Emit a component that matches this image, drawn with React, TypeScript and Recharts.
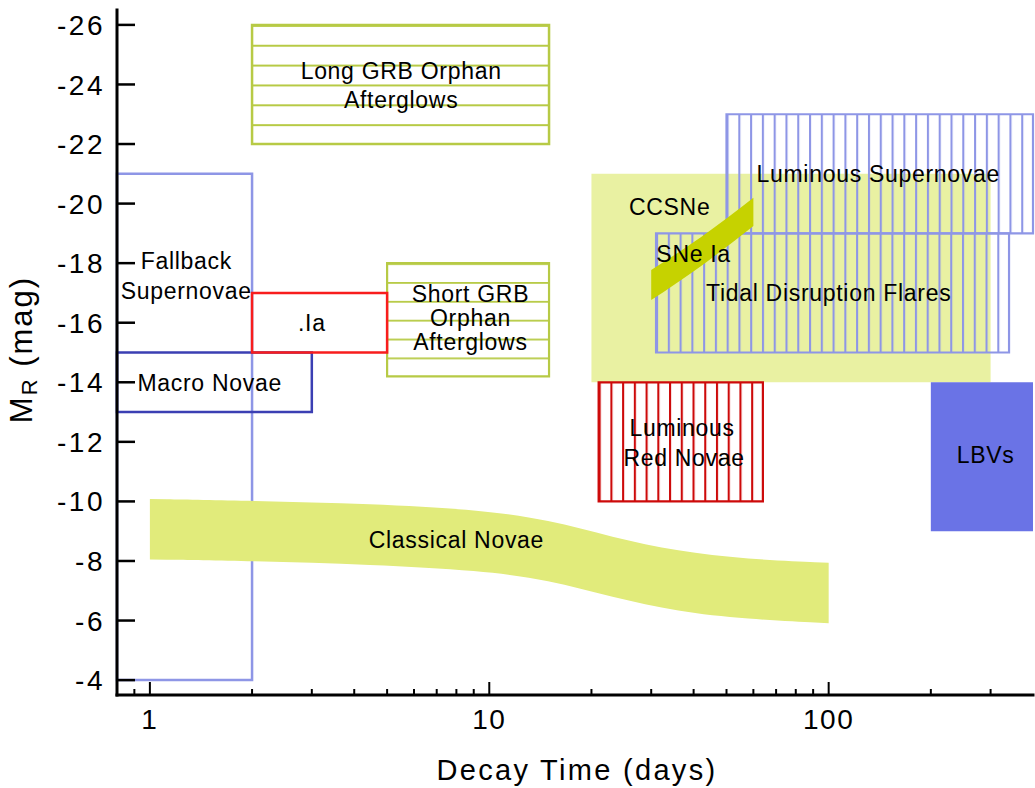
import React from "react";
import { ComposedChart, XAxis, YAxis, ReferenceArea, Area, Scatter } from "recharts";

// axis ticks
const X_TICKS = [0.9, 1, 2, 3, 4, 5, 6, 7, 8, 9, 10, 20, 30, 40, 50, 60, 70, 80, 90, 100, 200, 300];
const X_LABELED = [1, 10, 100];
const Y_TICKS = [-26, -24, -22, -20, -18, -16, -14, -12, -10, -8, -6, -4];

// rectangular regions: decay time (days) x M_R (mag), drawn in this order
const regions = [
  { name: "CCSNe", x1: 20, x2: 300, y1: -21, y2: -14 },
  { name: "Fallback Supernovae", x1: 0.8, x2: 2, y1: -21, y2: -4 },
  { name: "Macro Novae", x1: 0.8, x2: 3, y1: -15, y2: -13 },
  { name: "Short GRB Orphan Afterglows", x1: 5, x2: 15, y1: -18, y2: -14.2 },
  { name: ".Ia", x1: 2, x2: 5, y1: -17, y2: -15 },
  { name: "Long GRB Orphan Afterglows", x1: 2, x2: 15, y1: -26, y2: -22 },
  { name: "Luminous Supernovae", x1: 50, x2: 400, y1: -23, y2: -19 },
  { name: "Tidal Disruption Flares", x1: 31, x2: 340, y1: -19, y2: -15 },
  { name: "Luminous Red Novae", x1: 21, x2: 64, y1: -14, y2: -10 },
  { name: "LBVs", x1: 200, x2: 400, y1: -14, y2: -9 },
];

// Classical Novae band (lo = fainter edge, hi = brighter edge)
const classicalNovae = [
  { t: 1, lo: -8.05, hi: -10.08 },
  { t: 2, lo: -8.0, hi: -10.02 },
  { t: 4.5, lo: -7.88, hi: -9.92 },
  { t: 9.4, lo: -7.68, hi: -9.72 },
  { t: 15, lo: -7.36, hi: -9.38 },
  { t: 23, lo: -6.78, hi: -8.8 },
  { t: 36, lo: -6.3, hi: -8.32 },
  { t: 57, lo: -6.05, hi: -8.06 },
  { t: 100, lo: -5.91, hi: -7.94 },
];

// SNe Ia strip
const snIa = [
  { t: 30, lo: -16.76, hi: -17.77 },
  { t: 42, lo: -17.9, hi: -18.87 },
  { t: 60, lo: -19.25, hi: -20.2 },
];

// text labels, one entry per line
const labels = [
  { t: 5.5, m: -24.45, text: "Long GRB Orphan" },
  { t: 5.5, m: -23.48, text: "Afterglows" },
  { t: 1.28, m: -18.07, text: "Fallback" },
  { t: 1.28, m: -17.07, text: "Supernovae" },
  { t: 3.0, m: -15.99, text: ".Ia" },
  { t: 1.5, m: -14.0, text: "Macro Novae" },
  { t: 8.8, m: -16.96, text: "Short GRB" },
  { t: 8.8, m: -16.16, text: "Orphan" },
  { t: 8.8, m: -15.35, text: "Afterglows" },
  { t: 34, m: -19.9, text: "CCSNe" },
  { t: 140, m: -21.0, text: "Luminous Supernovae" },
  { t: 40, m: -18.32, text: "SNe Ia" },
  { t: 100, m: -17.0, text: "Tidal Disruption Flares" },
  { t: 37, m: -12.46, text: "Luminous" },
  { t: 37.5, m: -11.47, text: "Red Novae" },
  { t: 290, m: -11.57, text: "LBVs" },
  { t: 8.0, m: -8.7, text: "Classical Novae" },
];

const FONT = "'Liberation Sans', Arial, Helvetica, sans-serif";
const OLIVE = "#b7ca45";
const LIGHT_BLUE = "#8e96e6";
const DARK_RED = "#cd0a0a";

const regionStyle: Record<string, any> = {
  "CCSNe": { fill: "#e9f1a2", stroke: "none" },
  "Fallback Supernovae": { fill: "none", stroke: LIGHT_BLUE, strokeWidth: 2.5 },
  "Macro Novae": { fill: "none", stroke: "#3b3fb3", strokeWidth: 2.5 },
  ".Ia": { fill: "none", stroke: "#f81d1d", strokeWidth: 2.5 },
  "Long GRB Orphan Afterglows": { fill: "url(#hLong)", stroke: OLIVE, strokeWidth: 2.5 },
  "Short GRB Orphan Afterglows": { fill: "url(#hShort)", stroke: OLIVE, strokeWidth: 2.2 },
  "Luminous Supernovae": { fill: "url(#vLumSN)", stroke: LIGHT_BLUE, strokeWidth: 2.2 },
  "Tidal Disruption Flares": { fill: "url(#vTDF)", stroke: LIGHT_BLUE, strokeWidth: 2.2 },
  "Luminous Red Novae": { fill: "url(#vLRN)", stroke: DARK_RED, strokeWidth: 2.2 },
  "LBVs": { fill: "#6a73e6", stroke: "none" },
};

const axisLineStyle = { stroke: "#000", strokeWidth: 3, strokeLinecap: "square" as const };

const BottomTick = ({ x, y, payload }: any) => {
  const major = X_LABELED.includes(payload.value);
  return (
    <g>
      <line x1={x} x2={x} y1={y} y2={y - (major ? 13 : 6)} stroke="#000" strokeWidth={2} />
      {major && (
        <text x={x} y={y + 34} textAnchor="middle" fontFamily={FONT} fontSize={28} letterSpacing={1.5} fill="#000">
          {payload.value}
        </text>
      )}
    </g>
  );
};

const TopTick = ({ x, y, payload }: any) => {
  const major = X_LABELED.includes(payload.value);
  return <line x1={x} x2={x} y1={y} y2={y + (major ? 13 : 6)} stroke="#000" strokeWidth={2} />;
};

const LeftTick = ({ x, y, payload }: any) => (
  <g>
    <line x1={x} x2={x + 18} y1={y} y2={y} stroke="#000" strokeWidth={2.5} />
    <text x={x - 12} y={y} dy="0.36em" textAnchor="end" fontFamily={FONT} fontSize={28} letterSpacing={2.5} fill="#000">
      {payload.value}
    </text>
  </g>
);

const RightTick = ({ x, y }: any) => (
  <line x1={x} x2={x - 18} y1={y} y2={y} stroke="#000" strokeWidth={2.5} />
);

const TextMark = ({ cx, cy, payload }: any) => (
  <text x={cx} y={cy} dy="0.36em" textAnchor="middle" fontFamily={FONT} fontSize={23} letterSpacing={0.7} fill="#000">
    {payload.text}
  </text>
);

const XTitle = ({ viewBox }: any) => (
  <text
    x={viewBox.x + viewBox.width / 2 + 2}
    y={viewBox.y + 85}
    textAnchor="middle"
    fontFamily={FONT}
    fontSize={29}
    letterSpacing={2.3}
    fill="#000"
  >
    Decay Time (days)
  </text>
);

const YTitle = ({ viewBox }: any) => (
  <text
    transform={`translate(${viewBox.x + 32}, ${viewBox.y + viewBox.height / 2 - 3}) rotate(-90)`}
    textAnchor="middle"
    fontFamily={FONT}
    fontSize={31}
    letterSpacing={2}
    fill="#000"
  >
    M
    <tspan fontSize={22} dy="0.22em">R</tspan>
    <tspan dy="-0.16em"> (mag)</tspan>
  </text>
);

const HatchDefs = () => (
  <svg width={0} height={0} style={{ position: "absolute" }}>
    <defs>
      <pattern id="hLong" patternUnits="objectBoundingBox" x={0} y={0} width={1} height={1 / 6}>
        <rect x={0} y={0} width={4000} height={2} fill={OLIVE} />
      </pattern>
      <pattern id="hShort" patternUnits="objectBoundingBox" x={0} y={0} width={1} height={1 / 6}>
        <rect x={0} y={0} width={4000} height={1.8} fill={OLIVE} />
      </pattern>
      <pattern id="vLumSN" patternUnits="objectBoundingBox" x={0} y={0} width={1 / 26} height={1}>
        <rect x={0} y={0} width={2.1} height={4000} fill={LIGHT_BLUE} />
      </pattern>
      <pattern id="vTDF" patternUnits="objectBoundingBox" x={0} y={0} width={1 / 30} height={1}>
        <rect x={0} y={0} width={2.1} height={4000} fill={LIGHT_BLUE} />
      </pattern>
      <pattern id="vLRN" patternUnits="objectBoundingBox" x={0} y={0} width={1 / 14} height={1}>
        <rect x={0} y={0} width={2.1} height={4000} fill={DARK_RED} />
      </pattern>
    </defs>
  </svg>
);

export default function App() {
  return (
    <div style={{ position: "absolute", left: 0, top: 0, background: "#fff" }}>
      <HatchDefs />
      <ComposedChart width={1035} height={788} margin={{ top: 10, right: 2, bottom: 0, left: 0 }}>
        <XAxis
          dataKey="t"
          type="number"
          scale="log"
          domain={[0.8, 400]}
          allowDataOverflow
          ticks={X_TICKS}
          interval={0}
          tick={BottomTick}
          tickLine={false}
          tickSize={0}
          tickMargin={0}
          axisLine={axisLineStyle}
          height={93}
          label={{ content: XTitle }}
        />
        <XAxis
          xAxisId="top"
          orientation="top"
          dataKey="t"
          type="number"
          scale="log"
          domain={[0.8, 400]}
          allowDataOverflow
          ticks={X_TICKS}
          interval={0}
          tick={TopTick}
          tickLine={false}
          tickSize={0}
          tickMargin={0}
          axisLine={axisLineStyle}
          height={0}
        />
        <YAxis
          type="number"
          domain={[-26.5, -3.5]}
          reversed
          allowDataOverflow
          ticks={Y_TICKS}
          interval={0}
          tick={LeftTick}
          tickLine={false}
          tickSize={0}
          tickMargin={0}
          axisLine={axisLineStyle}
          width={117}
          label={{ content: YTitle }}
        />
        <YAxis
          yAxisId="right"
          orientation="right"
          type="number"
          domain={[-26.5, -3.5]}
          reversed
          allowDataOverflow
          ticks={Y_TICKS}
          interval={0}
          tick={RightTick}
          tickLine={false}
          tickSize={0}
          tickMargin={0}
          axisLine={axisLineStyle}
          width={0}
        />
        {regions.map((r) => (
          <ReferenceArea
            key={r.name}
            x1={r.x1}
            x2={r.x2}
            y1={r.y1}
            y2={r.y2}
            fillOpacity={1}
            ifOverflow="visible"
            {...regionStyle[r.name]}
          />
        ))}
        <Area
          data={classicalNovae}
          dataKey={(d: any) => [d.lo, d.hi]}
          type="basis"
          stroke="none"
          fill="#e1eb7b"
          fillOpacity={1}
          isAnimationActive={false}
          dot={false}
          activeDot={false}
        />
        <Area
          data={snIa}
          dataKey={(d: any) => [d.lo, d.hi]}
          type="monotone"
          stroke="none"
          fill="#c6d200"
          fillOpacity={1}
          isAnimationActive={false}
          dot={false}
          activeDot={false}
        />
        <Scatter data={labels} dataKey="m" shape={TextMark} isAnimationActive={false} legendType="none" />
      </ComposedChart>
    </div>
  );
}
